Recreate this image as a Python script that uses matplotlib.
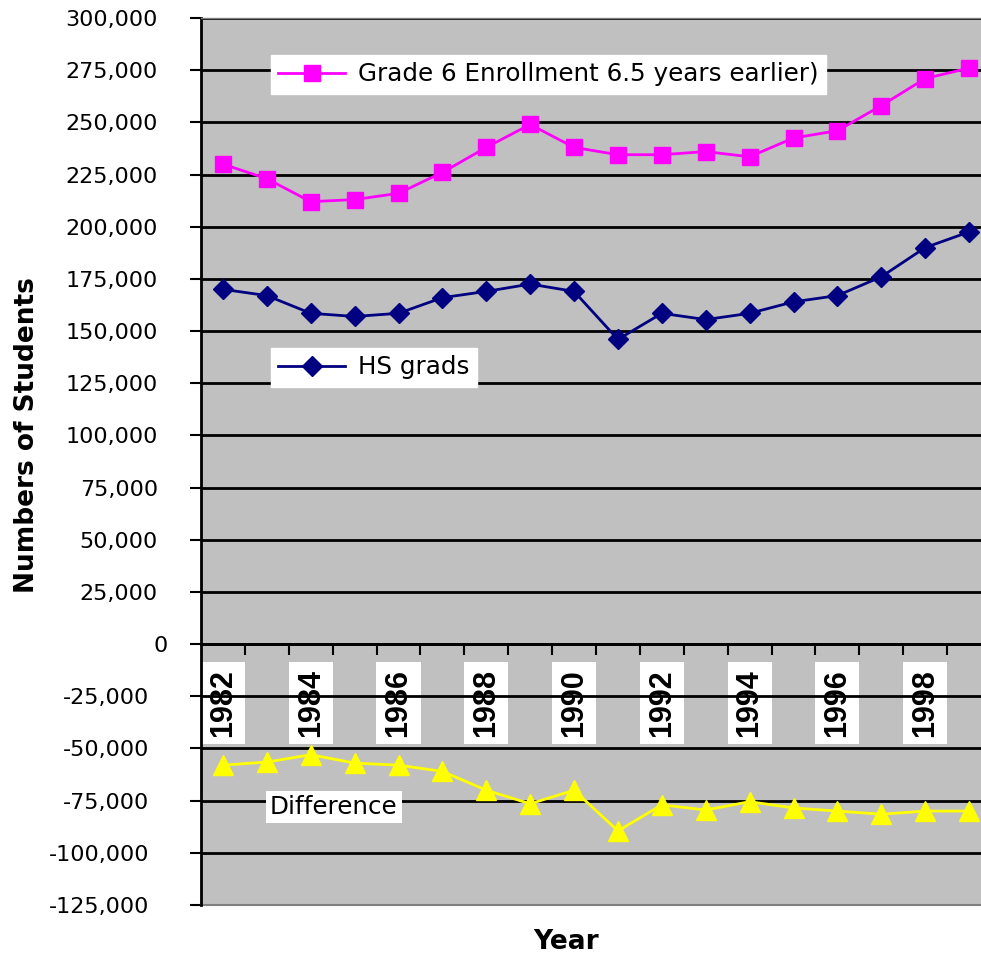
import matplotlib
matplotlib.use('Agg')
import matplotlib.pyplot as plt
import matplotlib.transforms as mtransforms
from matplotlib.lines import Line2D

years = [1982, 1983, 1984, 1985, 1986, 1987, 1988, 1989, 1990,
         1991, 1992, 1993, 1994, 1995, 1996, 1997, 1998, 1999]
grade6 = [230000, 223000, 212000, 213000, 216000, 226000, 238000, 249000, 238000,
          234500, 234500, 236000, 233500, 242500, 246000, 258000, 271000, 276000]
hs_grads = [170000, 167000, 158500, 157000, 158500, 166000, 169000, 172500, 169000,
            146000, 158500, 155500, 158500, 164000, 167000, 176000, 190000, 197500]
difference = [-58000, -56500, -53000, -57000, -58000, -61000, -70000, -76500, -70000,
              -89500, -77000, -79500, -75500, -78500, -80000, -81500, -80000, -80000]
yticks = list(range(-125000, 300001, 25000))

fig = plt.figure(figsize=(9.81, 9.58), dpi=100)
ax = fig.add_axes([201/981, 53/958, 790/981, 887/958])
ax.set_facecolor('#C0C0C0')

x = list(range(len(years)))
ax.plot(x, grade6, color='#FF00FF', lw=2, marker='s', ms=11, zorder=3)
ax.plot(x, hs_grads, color='#000080', lw=2, marker='D', ms=10, zorder=3)
ax.plot(x, difference, color='#FFFF00', lw=2, marker='^', ms=14, zorder=3)

ax.set_xlim(-0.5, len(years) - 0.5)
ax.set_ylim(-125000, 300000)

# horizontal grid
ax.set_yticks(yticks)
ax.set_yticklabels(['0' if v == 0 else f'{v:,}' for v in yticks],
                   family='DejaVu Sans', fontsize=16)
ax.yaxis.grid(True, color='black', lw=2)
ax.set_axisbelow(True)
ax.tick_params(axis='y', length=8, width=1.5, pad=23, color='black')
for lab, v in zip(ax.get_yticklabels(), yticks):
    if v < 0:
        lab.set_transform(lab.get_transform() + mtransforms.ScaledTranslation(-0.09, 0, fig.dpi_scale_trans))
    elif v == 0:
        lab.set_transform(lab.get_transform() + mtransforms.ScaledTranslation(0.10, 0, fig.dpi_scale_trans))

# category axis crossing at zero
ax.spines['bottom'].set_position(('data', 0))
ax.spines['bottom'].set_color('black')
ax.spines['bottom'].set_linewidth(2)
ax.spines['left'].set_linewidth(2)
ax.spines['right'].set_visible(False)
ax.spines['top'].set_color('#808080')
ax.spines['top'].set_linewidth(1)
ax.plot([0, 1], [0, 0], transform=ax.transAxes, color='#808080', lw=1.5, clip_on=False)

ax.set_xticks(x[::2])
ax.set_xticklabels([str(y) for y in years[::2]], rotation=90, fontweight='bold',
                   family='Liberation Sans', fontsize=22,
                   bbox=dict(facecolor='white', edgecolor='none', pad=5))
ax.set_xticks([i + 0.5 for i in x], minor=True)
ax.tick_params(axis='x', which='major', length=0, pad=18)
ax.tick_params(axis='x', which='minor', length=8, width=1.5, color='black')

fig.text(27/981, 1 - 435/958, 'Numbers of Students', rotation=90, ha='center', va='center',
         fontsize=19, fontweight='bold', family='DejaVu Sans')
fig.text(566/981, 1 - 942/958, 'Year', ha='center', va='center',
         fontsize=19, fontweight='bold', family='DejaVu Sans')

# legend boxes
h1 = Line2D([], [], color='#FF00FF', lw=2, marker='s', ms=11)
leg1 = ax.legend([h1], ['Grade 6 Enrollment 6.5 years earlier)'], loc='upper left',
                 bbox_to_anchor=(271/981, 1 - 55/958), bbox_transform=fig.transFigure,
                 fancybox=False, framealpha=1, edgecolor='white', facecolor='white',
                 prop={'family': 'DejaVu Sans', 'size': 17.7}, handlelength=2.7,
                 handletextpad=0.55, borderpad=0.3, borderaxespad=0)
ax.add_artist(leg1)
h2 = Line2D([], [], color='#000080', lw=2, marker='D', ms=10)
ax.legend([h2], ['HS grads'], loc='upper left',
          bbox_to_anchor=(271/981, 1 - 348/958), bbox_transform=fig.transFigure,
          fancybox=False, framealpha=1, edgecolor='white', facecolor='white',
          prop={'family': 'DejaVu Sans', 'size': 17.7}, handlelength=2.7,
          handletextpad=0.55, borderpad=0.3, borderaxespad=0)
fig.text(270/981, 1 - 807/958, 'Difference', ha='left', va='center',
         fontsize=17.7, family='DejaVu Sans',
         bbox=dict(facecolor='white', edgecolor='none', pad=3))

fig.savefig('out.png', dpi=100)
